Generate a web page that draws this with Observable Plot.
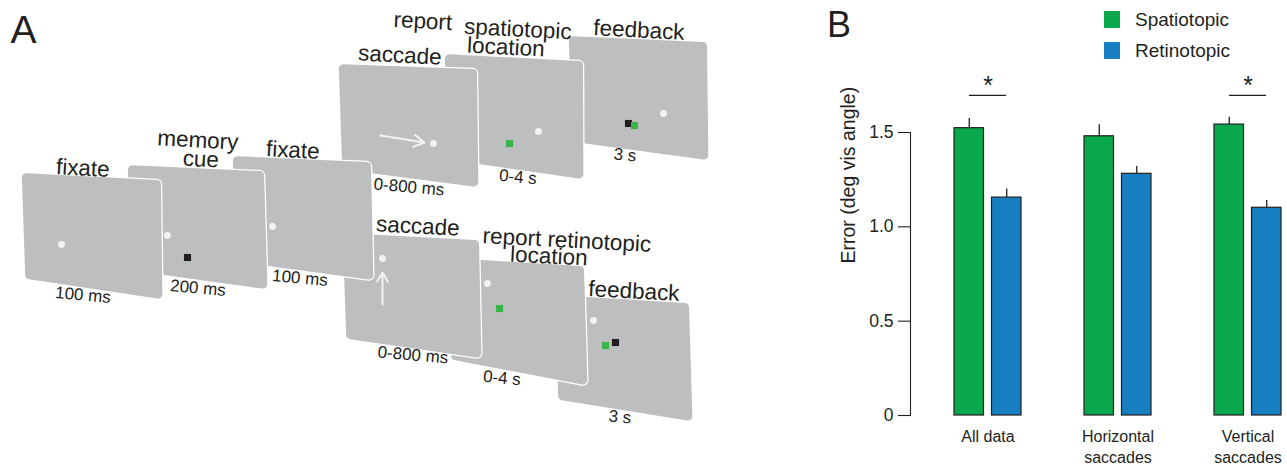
<!DOCTYPE html>
<html><head><meta charset="utf-8">
<script src="https://cdn.jsdelivr.net/npm/d3@7"></script>
<script src="https://cdn.jsdelivr.net/npm/@observablehq/plot@0.6"></script>
<style>
html,body{margin:0;padding:0;background:#fff;overflow:hidden}
#fig{position:relative;width:1287px;height:464px;font-family:"Liberation Sans",Arial,sans-serif;color:#231f20}
#fig svg{position:absolute;top:0;max-width:none;background:transparent;overflow:visible}
.panel{position:absolute;font-size:36px;line-height:36px}
.leg{position:absolute;left:1104px;height:17px;font-size:19px;line-height:17px;white-space:nowrap}
.leg span{display:inline-block;width:16px;height:17px;vertical-align:top;margin-right:15px}
</style></head>
<body><div id="fig"></div>
<script>
// ---------- Panel B data ----------
const groups = ["All data", "Horizontal saccades", "Vertical saccades"];
const groupLabels = ["All data", "Horizontal\nsaccades", "Vertical\nsaccades"];
const conditions = ["Spatiotopic", "Retinotopic"];
const spatiotopic = [1.523, 1.480, 1.542];
const spatiotopicErr = [0.051, 0.061, 0.039];
const retinotopic = [1.155, 1.281, 1.101];
const retinotopicErr = [0.046, 0.039, 0.038];
const significant = ["All data", "Vertical saccades"];
const sigLevel = 1.697;
const yTicks = [0, 0.5, 1, 1.5];
const colors = ["#0aa84c", "#177ec2"];

// ---------- Panel A schematic data (screen outlines, back to front) ----------
const screens = [
  {name: "feedback-retino", pts: [[555,296],[688,304],[691,419],[558,398]]},
  {name: "report-retino",   pts: [[449,259],[583,267],[586,383],[451,358]]},
  {name: "saccade-retino",  pts: [[343,234],[478,241],[480,356],[346,337]]},
  {name: "feedback-spatio", pts: [[569,37],[706,43],[707,158],[572,140]]},
  {name: "report-spatio",   pts: [[445,55],[582,62],[582,177],[448,158]]},
  {name: "saccade-spatio",  pts: [[339,65],[476,70],[477,185],[342,168]]},
  {name: "fixate2",         pts: [[233,157],[370,163],[372,278],[236,260]]},
  {name: "memory",          pts: [[128,166],[263,172],[266,287],[131,269]]},
  {name: "fixate1",         pts: [[22,174],[160,181],[161,297],[25,277]]}
];
const fixationDots = [[61,244],[167,235],[272,226],[433,143],[538,131],[663,113],[382,258],[487,283],[593,320]];
const targetSquares = [[187,257],[628,123],[615,342]];
const responseSquares = [[509,143],[634,125],[499,308],[605,345]];
const saccadeArrows = [[380,135,424,142],[382,304,382,272]];
const stageLabels = [
  ["fixate",82,175],["memory",197,147],["cue",200,166],["fixate",292,157],
  ["saccade",399,62],["report",422,28],["spatiotopic",517,36],["location",505,54],["feedback",638,37],
  ["saccade",417,233],["report retinotopic",566,247],["location",548,263],["feedback",633,298]
];
const durationLabels = [
  ["100 ms",82,300],["200 ms",197,293],["100 ms",299,283],
  ["0-800 ms",408,192],["0-4 s",517,182],["3 s",624,160],
  ["0-800 ms",412,360],["0-4 s",501,383],["3 s",619,422]
];

const font = '"Liberation Sans", Arial, sans-serif';
const ink = "#231f20";
const fig = document.getElementById("fig");

// inset polygon corners toward centroid (rounded stroke re-expands them)
function inset(pts, d) {
  const cx = d3.mean(pts, p => p[0]), cy = d3.mean(pts, p => p[1]);
  return pts.map(([x, y]) => {
    const dx = cx - x, dy = cy - y, L = Math.hypot(dx, dy);
    return [x + dx / L * d, y + dy / L * d];
  });
}

const screenMarks = screens.flatMap(s => {
  const pts = inset(s.pts, 5);
  return [
    Plot.line(pts, {x: d => d[0], y: d => d[1], curve: "linear-closed", fill: "white", stroke: "white", strokeWidth: 11.5}),
    Plot.line(pts, {x: d => d[0], y: d => d[1], curve: "linear-closed", fill: "#bdbec0", stroke: "#bdbec0", strokeWidth: 9})
  ];
});

const plotA = Plot.plot({
  width: 830, height: 464, margin: 0,
  x: {type: "linear", domain: [0, 830], range: [0, 830], axis: null},
  y: {type: "linear", domain: [0, 464], range: [0, 464], axis: null},
  style: {fontFamily: font, color: ink, background: "transparent"},
  marks: [
    ...screenMarks,
    Plot.arrow(saccadeArrows, {x1: d => d[0], y1: d => d[1], x2: d => d[2], y2: d => d[3], stroke: "#f2f2f2", strokeWidth: 2, headLength: 9}),
    Plot.dot(fixationDots, {x: d => d[0], y: d => d[1], r: 3.4, fill: "#f2f2f2"}),
    Plot.dot(targetSquares, {x: d => d[0], y: d => d[1], symbol: "square", r: 4, fill: ink}),
    Plot.dot(responseSquares, {x: d => d[0], y: d => d[1], symbol: "square", r: 4, fill: "#39b54a"}),
    Plot.text(stageLabels, {x: d => d[1], y: d => d[2], text: d => d[0], fontSize: 22.5, rotate: 3, lineAnchor: "bottom", fill: ink}),
    Plot.text(durationLabels, {x: d => d[1], y: d => d[2], text: d => d[0], fontSize: 17, rotate: 5, lineAnchor: "bottom", fill: ink}),
    Plot.text(["A"], {x: () => 10, y: () => 42, text: d => d, fontSize: 39, textAnchor: "start", lineAnchor: "bottom", fill: ink})
  ]
});
plotA.style.left = "0px";
fig.appendChild(plotA);

// ---------- Panel B ----------
const bars = groups.flatMap((g, i) => [
  {group: g, cond: conditions[0], value: spatiotopic[i], upper: spatiotopic[i] + spatiotopicErr[i]},
  {group: g, cond: conditions[1], value: retinotopic[i], upper: retinotopic[i] + retinotopicErr[i]}
]);
const sBars = bars.filter(d => d.cond === conditions[0]);
const rBars = bars.filter(d => d.cond === conditions[1]);

const plotB = Plot.plot({
  width: 467, height: 464,
  marginLeft: 90, marginRight: 0, marginTop: 132, marginBottom: 49,
  style: {fontFamily: font, color: ink, background: "transparent", overflow: "visible"},
  x: {domain: groups, range: [101.85, 492.75], paddingInner: 0.482, paddingOuter: 0.241},
  y: {domain: [0, 1.5]},
  color: {domain: conditions, range: colors},
  marks: [
    Plot.frame({anchor: "left", stroke: ink, strokeWidth: 1.1}),
    Plot.axisY({ticks: yTicks, tickSize: 12, tickPadding: 5, tickFormat: d => d === 0 ? "0" : d.toFixed(1), fontSize: 17.5, label: null, stroke: ink, strokeWidth: 1.1}),
    Plot.text(["Error (deg vis angle)"], {frameAnchor: "left", text: d => d, rotate: -90, dx: -62, dy: -10.5, fontSize: 19.5, fill: ink}),
    Plot.axisX({tickSize: 0, tickPadding: 12, fontSize: 16, lineHeight: 1.3, tickFormat: g => groupLabels[groups.indexOf(g)], label: null}),
    Plot.barY(sBars, {x: "group", y: "value", fill: "cond", stroke: ink, strokeWidth: 1.2, insetRight: 37.5}),
    Plot.barY(rBars, {x: "group", y: "value", fill: "cond", stroke: ink, strokeWidth: 1.2, insetLeft: 37.5}),
    Plot.ruleX(sBars, {x: "group", y1: "value", y2: "upper", dx: -18.75, stroke: ink, strokeWidth: 1.3}),
    Plot.ruleX(rBars, {x: "group", y1: "value", y2: "upper", dx: 18.75, stroke: ink, strokeWidth: 1.3}),
    Plot.ruleY(significant, {x1: d => d, x2: d => d, y: () => sigLevel, insetLeft: 14.9, insetRight: 14.9, stroke: ink, strokeWidth: 1.2}),
    Plot.text(significant, {x: d => d, y: () => sigLevel, text: () => "*", fontSize: 25, dy: -1, lineAnchor: "bottom", fill: ink})
  ]
});
plotB.style.left = "820px";
fig.appendChild(plotB);

// panel letter and legend
const B = document.createElement("div");
B.className = "panel"; B.textContent = "B";
B.style.left = "827px"; B.style.top = "7px";
fig.appendChild(B);
conditions.forEach((c, i) => {
  const row = document.createElement("div");
  row.className = "leg";
  row.style.top = (11 + i * 31) + "px";
  const sw = document.createElement("span");
  sw.style.background = colors[i];
  row.appendChild(sw);
  row.appendChild(document.createTextNode(c));
  fig.appendChild(row);
});
</script>
</body></html>
